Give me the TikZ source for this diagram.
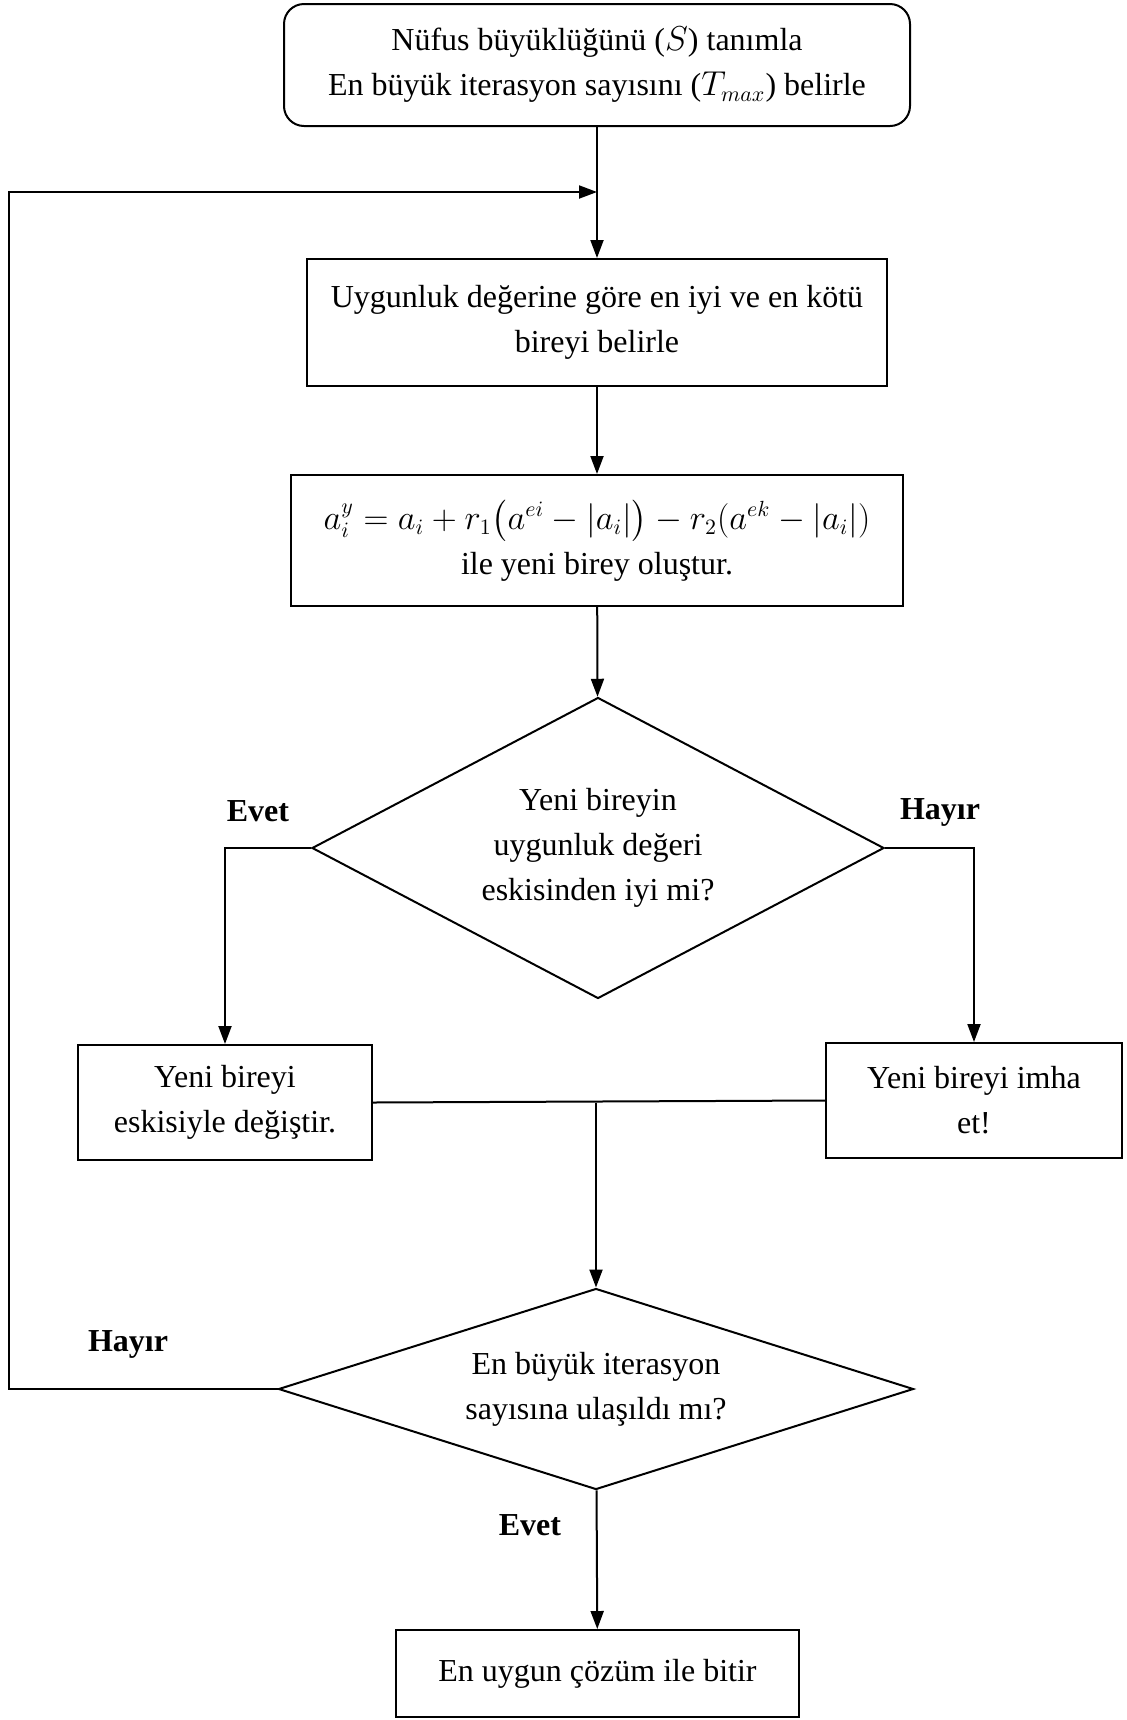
\documentclass[tikz,border=0pt]{standalone}
\usepackage{amsmath}
\usepackage{fontspec}
\setmainfont{Liberation Serif}
\usepackage{tikz}
\usetikzlibrary{shapes.geometric, arrows.meta, positioning, calc}

\begin{document}
\begin{tikzpicture}[x=0.5pt, y=-0.5pt, line width=1pt,
	font=\fontsize{16}{22.5}\selectfont,
	box/.style={draw, rectangle, align=center, inner sep=0pt},
	decision/.style={draw, diamond, align=center, inner sep=0pt},
	flow/.style={-{Triangle[length=9pt, width=6.5pt]}},
	answer/.style={font=\fontsize{16}{20}\selectfont\bfseries}]
			\useasboundingbox (0,0) rectangle (1127,1720);
			\node[box, rounded corners=10pt, minimum width=313pt, minimum height=61pt] (init) at (597,65)
				{Nüfus büyüklüğünü ($S$) tanımla\\En büyük iterasyon sayısını ($T_{max}$) belirle};
			\node[box, minimum width=290pt, minimum height=63.5pt] (rank) at (597,322.5)
				{Uygunluk değerine göre en iyi ve en kötü\\bireyi belirle};
			\node[box, minimum width=306pt, minimum height=65.5pt] (create) at (597,540.5)
				{$a_i^{y} = a_i + r_1\bigl(a^{ei} - |a_i|\bigr) - r_2(a^{ek} - |a_i|)$\\ile yeni birey oluştur.};
			\node[decision, aspect=1.9, minimum width=286pt, minimum height=150.5pt] (better) at (598,848)
				{Yeni bireyin\\uygunluk değeri\\eskisinden iyi mi?};
			\node[box, minimum width=147pt, minimum height=57.5pt] (replace) at (225,1102.5)
				{Yeni bireyi\\eskisiyle değiştir.};
			\node[box, minimum width=148pt, minimum height=57.5pt] (discard) at (974,1100.5)
				{Yeni bireyi imha\\et!};
			\node[decision, aspect=3.16, minimum width=317.5pt, minimum height=100.5pt] (maxiter) at (596,1389)
				{En büyük iterasyon\\sayısına ulaşıldı mı?};
			\node[box, minimum width=201.5pt, minimum height=43.5pt] (finish) at (597.5,1673.5)
				{En uygun çözüm ile bitir};
			% branch labels
			\node[answer] (yesleft) at (258,811) {Evet};
			\node[answer] (noright) at (940,812) {Hayır};
			\node[answer] (noloop) at (128,1344) {Hayır};
			\node[answer] (yesend) at (530,1525) {Evet};
			% connectors
			\coordinate (back) at (9,192);
			\coordinate (entry) at (597,192);
			\draw[flow] (init) -- (rank);
			\draw[flow] (rank) -- (create);
			\draw[flow] (create) -- (better);
			\draw[flow] (better.west) -| (replace.north);
			\draw[flow] (better.east) -| (discard.north);
			\draw (replace.east) -- (discard.west);
			\draw[flow] (maxiter.north |- replace.east) -- (maxiter.north);
			\draw[flow] (maxiter) -- (finish);
			\draw[flow] (maxiter.west) -| (back) -- (entry);
		\end{tikzpicture}
\end{document}
